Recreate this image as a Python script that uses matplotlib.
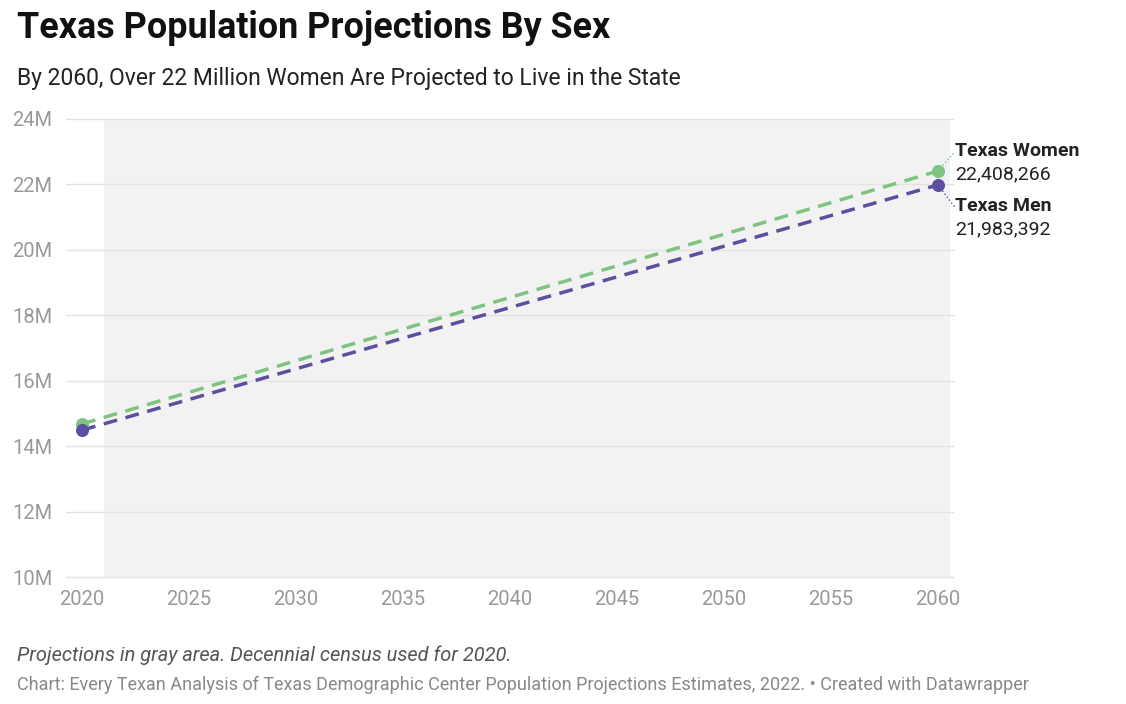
import matplotlib.pyplot as plt
import matplotlib.ticker as mticker

plt.rcParams['font.family'] = ['Roboto', 'DejaVu Sans']

years = [2020, 2060]
women = [14_680_000, 22_408_266]
men = [14_490_000, 21_983_392]
yticks = [10e6, 12e6, 14e6, 16e6, 18e6, 20e6, 22e6, 24e6]
xticks = [2020, 2025, 2030, 2035, 2040, 2045, 2050, 2055, 2060]

green = '#7cc47f'
purple = '#5b4f9f'

fig = plt.figure(figsize=(11.26, 7.04), dpi=100)
ax = fig.add_axes([66 / 1126, 1 - 579 / 704, 889 / 1126, 462 / 704])

ax.axvspan(2021.03, 2060.56, ymin=0.004, ymax=0.996, color='#f2f2f2', zorder=0, lw=0)
for t in yticks:
    ax.axhline(t, color='#e3e3e3', lw=1, zorder=1)

ax.plot(years, women, color=green, lw=2.5, ls=(0, (4, 2.5)), zorder=3)
ax.plot(years, men, color=purple, lw=2.5, ls=(0, (4, 2.5)), zorder=3)
ax.scatter(years, women, color=green, s=70, zorder=4)
ax.scatter(years, men, color=purple, s=70, zorder=4)

ax.set_xlim(2019.25, 2060.8)
ax.set_ylim(9.94e6, 24.06e6)
ax.set_xticks(xticks)
ax.set_yticks(yticks)
ax.yaxis.set_major_formatter(mticker.FuncFormatter(lambda v, p: f'{v / 1e6:.0f}M'))
ax.tick_params(axis='both', length=0, labelsize=14.5, labelcolor='#999999')
ax.tick_params(axis='y', pad=10)
ax.tick_params(axis='x', pad=8)
for s in ax.spines.values():
    s.set_visible(False)

# labels at the right end
ax.plot([2060, 2060.8], [women[1], 23.0e6], color=green, lw=1, ls=':', zorder=2, clip_on=False)
ax.plot([2060, 2060.8], [men[1], 21.3e6], color=purple, lw=1, ls=':', zorder=2, clip_on=False)
fig.text(955 / 1126, 1 - 151 / 704, 'Texas Women', fontsize=14, fontweight='bold', color='#222222', va='center')
fig.text(955 / 1126, 1 - 174 / 704, f'{women[1]:,}', fontsize=14, color='#222222', va='center')
fig.text(955 / 1126, 1 - 206 / 704, 'Texas Men', fontsize=14, fontweight='bold', color='#222222', va='center')
fig.text(955 / 1126, 1 - 229 / 704, f'{men[1]:,}', fontsize=14, color='#222222', va='center')

fig.text(17 / 1126, 1 - 28 / 704, 'Texas Population Projections By Sex', fontsize=25.8, fontweight='bold', color='#111111', va='center')
fig.text(17 / 1126, 1 - 78 / 704, 'By 2060, Over 22 Million Women Are Projected to Live in the State', fontsize=16.5, color='#222222', va='center')
fig.text(17 / 1126, 1 - 655 / 704, 'Projections in gray area. Decennial census used for 2020.', fontsize=14.4, style='italic', color='#555555', va='center')
fig.text(17 / 1126, 1 - 685 / 704, 'Chart: Every Texan Analysis of Texas Demographic Center Population Projections Estimates, 2022. \u2022 Created with Datawrapper',
         fontsize=13, color='#888888', va='center')

fig.savefig('out.png', dpi=100, facecolor='white')
